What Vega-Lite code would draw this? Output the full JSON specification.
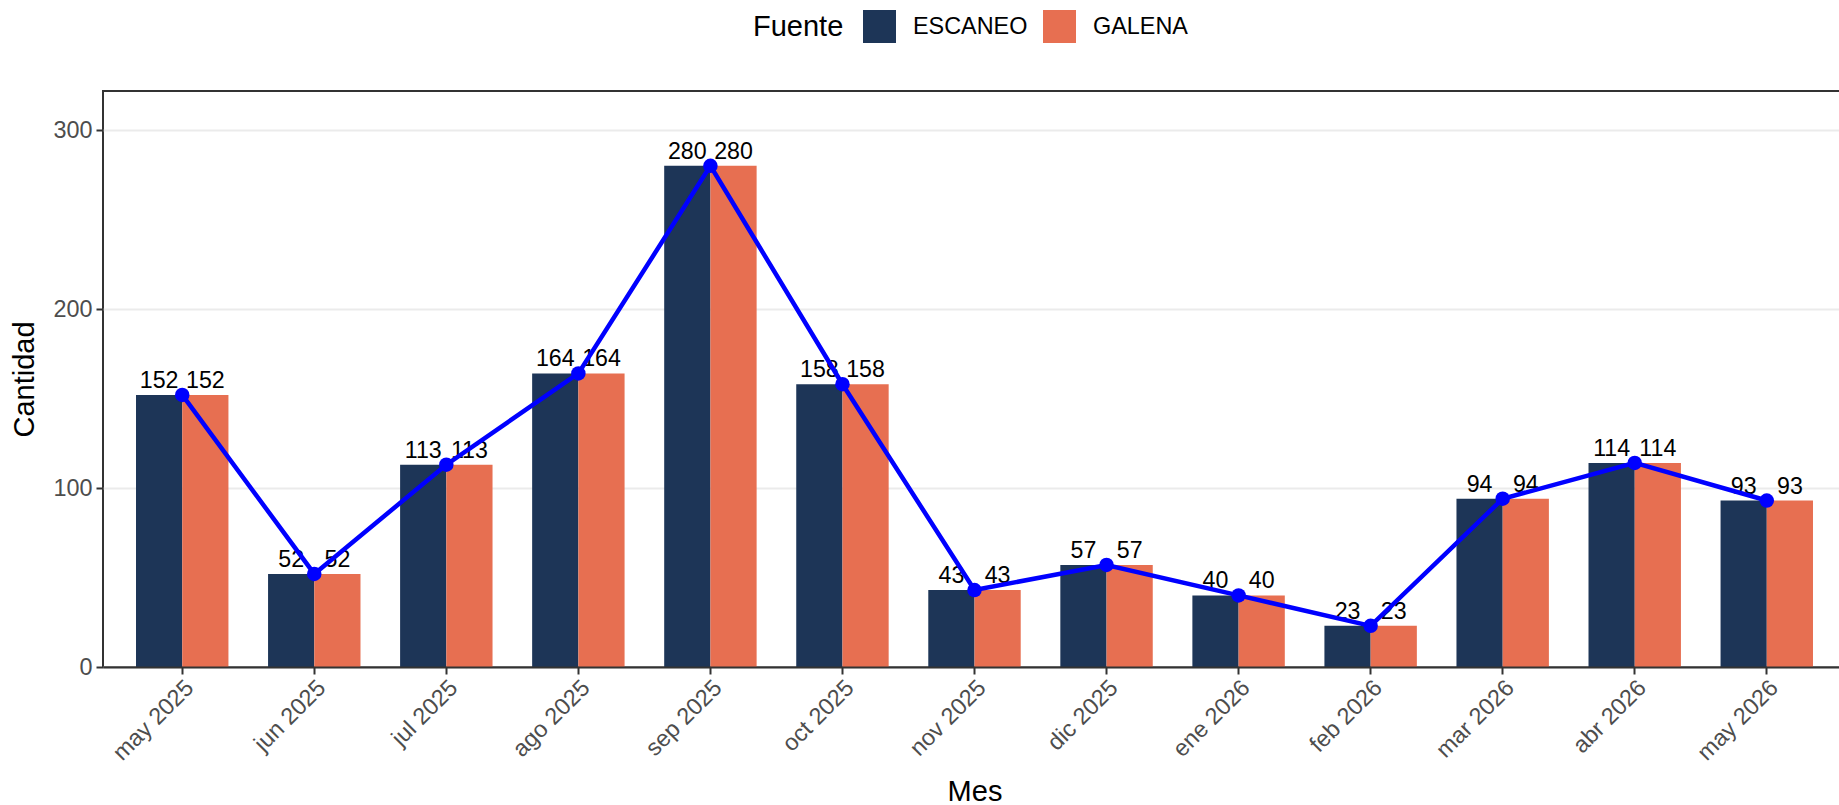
{
  "$schema": "https://vega.github.io/schema/vega-lite/v6.json",
  "width": 1737,
  "height": 576,
  "autosize": {"type": "none"},
  "padding": {"left": 103, "top": 91, "right": 0, "bottom": 138},
  "background": "white",
  "config": {
    "font": "Liberation Sans",
    "view": {"stroke": "#333333", "strokeWidth": 2},
    "axis": {
      "labelFont": "Liberation Sans",
      "titleFont": "Liberation Sans",
      "labelFontSize": 23.4,
      "labelColor": "#4d4d4d",
      "titleFontSize": 29,
      "titleFontWeight": "normal",
      "titleColor": "black",
      "tickColor": "#333333",
      "tickWidth": 2,
      "tickSize": 7,
      "domainColor": "#333333",
      "domainWidth": 2
    },
    "legend": {
      "labelFont": "Liberation Sans",
      "titleFont": "Liberation Sans"
    }
  },
  "data": {
    "values": [
      {"Mes": "may 2025", "Fuente": "ESCANEO", "Cantidad": 152},
      {"Mes": "may 2025", "Fuente": "GALENA", "Cantidad": 152},
      {"Mes": "jun 2025", "Fuente": "ESCANEO", "Cantidad": 52},
      {"Mes": "jun 2025", "Fuente": "GALENA", "Cantidad": 52},
      {"Mes": "jul 2025", "Fuente": "ESCANEO", "Cantidad": 113},
      {"Mes": "jul 2025", "Fuente": "GALENA", "Cantidad": 113},
      {"Mes": "ago 2025", "Fuente": "ESCANEO", "Cantidad": 164},
      {"Mes": "ago 2025", "Fuente": "GALENA", "Cantidad": 164},
      {"Mes": "sep 2025", "Fuente": "ESCANEO", "Cantidad": 280},
      {"Mes": "sep 2025", "Fuente": "GALENA", "Cantidad": 280},
      {"Mes": "oct 2025", "Fuente": "ESCANEO", "Cantidad": 158},
      {"Mes": "oct 2025", "Fuente": "GALENA", "Cantidad": 158},
      {"Mes": "nov 2025", "Fuente": "ESCANEO", "Cantidad": 43},
      {"Mes": "nov 2025", "Fuente": "GALENA", "Cantidad": 43},
      {"Mes": "dic 2025", "Fuente": "ESCANEO", "Cantidad": 57},
      {"Mes": "dic 2025", "Fuente": "GALENA", "Cantidad": 57},
      {"Mes": "ene 2026", "Fuente": "ESCANEO", "Cantidad": 40},
      {"Mes": "ene 2026", "Fuente": "GALENA", "Cantidad": 40},
      {"Mes": "feb 2026", "Fuente": "ESCANEO", "Cantidad": 23},
      {"Mes": "feb 2026", "Fuente": "GALENA", "Cantidad": 23},
      {"Mes": "mar 2026", "Fuente": "ESCANEO", "Cantidad": 94},
      {"Mes": "mar 2026", "Fuente": "GALENA", "Cantidad": 94},
      {"Mes": "abr 2026", "Fuente": "ESCANEO", "Cantidad": 114},
      {"Mes": "abr 2026", "Fuente": "GALENA", "Cantidad": 114},
      {"Mes": "may 2026", "Fuente": "ESCANEO", "Cantidad": 93},
      {"Mes": "may 2026", "Fuente": "GALENA", "Cantidad": 93}
    ]
  },
  "encoding": {
    "x": {
      "field": "Mes",
      "type": "nominal",
      "sort": null,
      "scale": {"paddingInner": 0.3, "paddingOuter": 0.25, "range": [0, 1743]},
      "axis": {
        "title": "Mes",
        "labelAngle": -45,
        "labelAlign": "right",
        "labelBaseline": "top",
        "labelPadding": 2,
        "labelOverlap": false,
        "zindex": 1,
        "grid": false,
        "titleY": 133,
        "titleBaseline": "alphabetic"
      }
    },
    "y": {
      "field": "Cantidad",
      "type": "quantitative",
      "scale": {"domain": [0, 321.8], "nice": false, "zero": true},
      "axis": {
        "title": "Cantidad",
        "values": [0, 100, 200, 300],
        "domain": false,
        "grid": true,
        "gridColor": "#ebebeb",
        "gridWidth": 2,
        "labelPadding": 4,
        "titleX": -79,
        "titleY": 288,
        "titleBaseline": "middle"
      }
    }
  },
  "layer": [
    {
      "mark": {"type": "bar"},
      "encoding": {
        "xOffset": {"field": "Fuente", "type": "nominal", "scale": {"paddingInner": 0, "paddingOuter": 0}},
        "color": {
          "field": "Fuente",
          "type": "nominal",
          "scale": {"domain": ["ESCANEO", "GALENA"], "range": ["#1D3557", "#E76F51"]},
          "legend": {
            "title": "Fuente",
            "orient": "none",
            "legendX": 650,
            "legendY": -81,
            "direction": "horizontal",
            "titleOrient": "left",
            "titleFontSize": 29,
            "titleFontWeight": "normal",
            "titleColor": "black",
            "titlePadding": 19,
            "titleBaseline": "middle",
            "labelFontSize": 23.4,
            "labelColor": "black",
            "labelOffset": 17,
            "columnPadding": 15,
            "symbolType": "square",
            "symbolSize": 1089,
            "symbolStrokeWidth": 0,
            "symbolOpacity": 1
          }
        }
      }
    },
    {
      "mark": {"type": "text", "baseline": "alphabetic", "dy": -7, "fontSize": 23.2, "color": "black", "align": "center"},
      "encoding": {
        "xOffset": {"field": "Fuente", "type": "nominal"},
        "text": {"field": "Cantidad", "type": "quantitative"}
      }
    },
    {
      "transform": [{"filter": "datum.Fuente === 'ESCANEO'"}],
      "mark": {"type": "line", "color": "#0000FF", "strokeWidth": 4.5},
      "encoding": {}
    },
    {
      "transform": [{"filter": "datum.Fuente === 'ESCANEO'"}],
      "mark": {"type": "point", "filled": true, "color": "#0000FF", "size": 210, "opacity": 1},
      "encoding": {}
    }
  ]
}
